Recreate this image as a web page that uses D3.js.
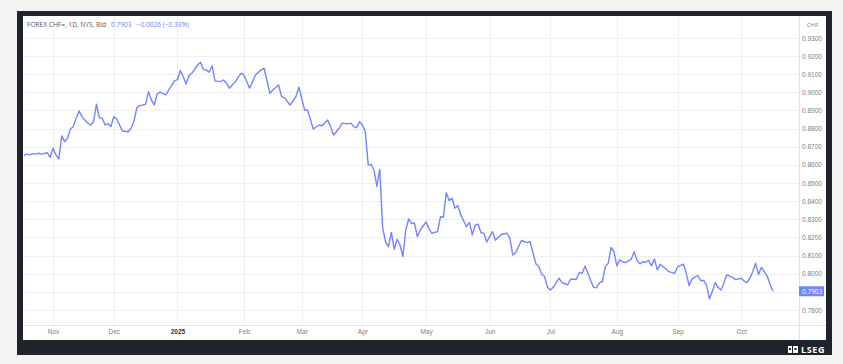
<!DOCTYPE html>
<html>
<head>
<meta charset="utf-8">
<script src="https://cdnjs.cloudflare.com/ajax/libs/d3/7.8.5/d3.min.js"></script>
<style>
    html, body { margin: 0; padding: 0; background: #f3f3f3; }
    svg { display: block; font-family: "Open Sans", "Noto Sans", sans-serif; }
    .axis text { font-size: 6.5px; fill: #7a7d86; }
    .axis .domain { display: none; }
</style>
</head>
<body>
<div id="chart"></div>
<script>
// daily bid closes (one sample per session where visible)
var dates = [
    "2024-10-18","2024-10-21","2024-10-22","2024-10-23","2024-10-24","2024-10-25","2024-10-28","2024-10-30","2024-10-31",
    "2024-11-01","2024-11-04","2024-11-05","2024-11-06","2024-11-07","2024-11-08","2024-11-11","2024-11-12","2024-11-13",
    "2024-11-14","2024-11-15","2024-11-19","2024-11-20","2024-11-21","2024-11-22","2024-11-25","2024-11-26","2024-11-27",
    "2024-11-28","2024-11-29","2024-12-02","2024-12-03","2024-12-05","2024-12-09","2024-12-10","2024-12-11","2024-12-12",
    "2024-12-13","2024-12-17","2024-12-18","2024-12-19","2024-12-20","2024-12-23","2024-12-24","2024-12-26","2024-12-27",
    "2024-12-31","2025-01-01","2025-01-02","2025-01-03","2025-01-06","2025-01-07","2025-01-08","2025-01-10","2025-01-13",
    "2025-01-14","2025-01-15","2025-01-16","2025-01-17","2025-01-20","2025-01-22","2025-01-23","2025-01-24","2025-01-27",
    "2025-01-29","2025-01-31","2025-02-03","2025-02-05","2025-02-07","2025-02-11","2025-02-12","2025-02-14","2025-02-17",
    "2025-02-19","2025-02-20","2025-02-21","2025-02-25","2025-02-27","2025-02-28","2025-03-03","2025-03-04","2025-03-05",
    "2025-03-07","2025-03-11","2025-03-12","2025-03-14","2025-03-17","2025-03-18","2025-03-20","2025-03-21","2025-03-25",
    "2025-03-26","2025-03-27","2025-03-28","2025-03-31","2025-04-01","2025-04-02","2025-04-03","2025-04-04","2025-04-07",
    "2025-04-08","2025-04-09","2025-04-10","2025-04-11","2025-04-14","2025-04-15","2025-04-16","2025-04-17","2025-04-18",
    "2025-04-21","2025-04-22","2025-04-23","2025-04-24","2025-04-25","2025-04-28","2025-04-29","2025-05-01","2025-05-02",
    "2025-05-05","2025-05-07","2025-05-08","2025-05-09","2025-05-12","2025-05-13","2025-05-14","2025-05-15","2025-05-16",
    "2025-05-19","2025-05-21","2025-05-22","2025-05-23","2025-05-26","2025-05-27","2025-05-28","2025-05-29","2025-05-30",
    "2025-06-03","2025-06-04","2025-06-06","2025-06-10","2025-06-11","2025-06-12","2025-06-13","2025-06-17","2025-06-19",
    "2025-06-20","2025-06-23","2025-06-24","2025-06-25","2025-06-26","2025-06-27","2025-06-30","2025-07-01","2025-07-02",
    "2025-07-03","2025-07-04","2025-07-07","2025-07-09","2025-07-10","2025-07-14","2025-07-15","2025-07-16","2025-07-17",
    "2025-07-18","2025-07-21","2025-07-22","2025-07-23","2025-07-24","2025-07-25","2025-07-28","2025-07-29","2025-07-30",
    "2025-07-31","2025-08-01","2025-08-04","2025-08-05","2025-08-06","2025-08-08","2025-08-11","2025-08-12","2025-08-13",
    "2025-08-14","2025-08-15","2025-08-18","2025-08-19","2025-08-20","2025-08-21","2025-08-22","2025-08-26","2025-08-27",
    "2025-08-29","2025-09-01","2025-09-03","2025-09-04","2025-09-05","2025-09-08","2025-09-10","2025-09-11","2025-09-12",
    "2025-09-15","2025-09-16","2025-09-17","2025-09-18","2025-09-19","2025-09-22","2025-09-23","2025-09-24","2025-09-26",
    "2025-09-29","2025-10-01","2025-10-02","2025-10-03","2025-10-06","2025-10-07","2025-10-08","2025-10-09","2025-10-10",
    "2025-10-14","2025-10-15","2025-10-16"
];

var closes = [
    0.8652,0.8659,0.8655,0.8662,0.8659,0.8664,0.8659,0.8667,0.8642,
    0.8692,0.8655,0.8632,0.8760,0.8728,0.8747,0.8798,0.8811,0.8857,
    0.8897,0.8866,0.8830,0.8820,0.8838,0.8934,0.8860,0.8857,0.8820,
    0.8827,0.8811,0.8866,0.8853,0.8787,0.8783,0.8802,0.8842,0.8916,
    0.8927,0.8934,0.9004,0.8958,0.8930,0.8990,0.9001,0.8986,0.9013,
    0.9063,0.9070,0.9120,0.9087,0.9046,0.9092,0.9105,0.9151,0.9166,
    0.9127,0.9124,0.9111,0.9146,0.9063,0.9059,0.9068,0.9050,0.9023,
    0.9059,0.9105,0.9096,0.9023,0.9096,0.9124,0.9133,0.8995,0.9013,
    0.9041,0.8976,0.8971,0.8930,0.8976,0.9028,0.8967,0.8903,0.8903,
    0.8798,0.8820,0.8816,0.8848,0.8811,0.8765,0.8802,0.8830,0.8826,
    0.8830,0.8811,0.8805,0.8838,0.8820,0.8783,0.8600,0.8602,0.8572,
    0.8481,0.8575,0.8252,0.8175,0.8149,0.8228,0.8135,0.8190,0.8158,
    0.8094,0.8241,0.8302,0.8278,0.8278,0.8204,0.8241,0.8285,0.8250,
    0.8223,0.8232,0.8314,0.8311,0.8447,0.8403,0.8416,0.8361,0.8376,
    0.8324,0.8259,0.8283,0.8214,0.8269,0.8273,0.8226,0.8223,0.8175,
    0.8232,0.8184,0.8216,0.8223,0.8195,0.8103,0.8116,0.8183,0.8171,
    0.8177,0.8114,0.8054,0.8040,0.7998,0.7984,0.7925,0.7910,0.7925,
    0.7949,0.7975,0.7950,0.7939,0.7969,0.7969,0.8007,0.8002,0.8041,
    0.8002,0.7960,0.7924,0.7923,0.7950,0.7956,0.8039,0.8057,0.8145,
    0.8121,0.8043,0.8077,0.8066,0.8061,0.8080,0.8121,0.8072,0.8054,
    0.8066,0.8063,0.8074,0.8043,0.8081,0.8021,0.8052,0.8026,0.8011,
    0.8002,0.8037,0.8053,0.8002,0.7935,0.7971,0.7990,0.7962,0.7963,
    0.7938,0.7862,0.7901,0.7950,0.7925,0.7910,0.7947,0.7993,0.7980,
    0.7967,0.7975,0.7960,0.7950,0.7975,0.8011,0.8057,0.7995,0.8035,
    0.7987,0.7940,0.7903
];

var monthStarts = ["2024-11-01","2024-12-01","2025-01-01","2025-02-01","2025-03-01","2025-04-01",
                   "2025-05-01","2025-06-01","2025-07-01","2025-08-01","2025-09-01","2025-10-01"];
var monthLabels = ["Nov","Dec","2025","Feb","Mar","Apr","May","Jun","Jul","Aug","Sep","Oct"];

var priceTicks = [0.78,0.79,0.80,0.81,0.82,0.83,0.84,0.85,0.86,0.87,0.88,0.89,0.90,0.91,0.92,0.93];

var symbol = "FOREX CHF=, 1D, NYS, Bid",
    currency = "CHF",
    change = -0.0026,
    changePct = -0.33;

var width = 843, height = 364,
    frame = {left: 17, top: 11, right: 832, bottom: 355},
    panel = {right: 826, bottom: 340},
    plot = {left: 23, top: 16, right: 799, bottom: 325},
    line_color = "#7284ff",
    grid_color = "#eeeef0";

var parse_date = d3.utcParse("%Y-%m-%d"),
    price_format = d3.format(".4f"),
    start = parse_date(dates[0]);

// sessions (weekdays) since the first date -- the x axis has no weekend gaps
function session(d) {
    var n = 0;
    for (var t = new Date(start); t < d; t.setUTCDate(t.getUTCDate() + 1)) {
        var w = t.getUTCDay();
        if (w !== 0 && w !== 6) n++;
    }
    return n;
}

var data = dates.map(function(d, i) {
    var t = parse_date(d);
    return {date: t, idx: session(t), close: closes[i]};
});
var last = data[data.length - 1];

var x = d3.scaleLinear()
    .domain([-0.4, last.idx + 9])
    .range([plot.left, plot.right]);

var y = d3.scaleLinear()
    .domain([0.7717, 0.9421])
    .range([plot.bottom, plot.top]);

var svg = d3.select("#chart").append("svg")
    .attr("width", width)
    .attr("height", height);

svg.append("rect")
    .attr("x", frame.left).attr("y", frame.top)
    .attr("width", frame.right - frame.left)
    .attr("height", frame.bottom - frame.top)
    .attr("fill", "#1f232b");

svg.append("rect")
    .attr("x", plot.left).attr("y", plot.top)
    .attr("width", panel.right - plot.left)
    .attr("height", panel.bottom - plot.top)
    .attr("fill", "#fff");

/****
 * Grid
 */
var monthIdx = monthStarts.map(function(d) { return session(parse_date(d)); });

svg.append("g").selectAll("line")
    .data(priceTicks)
    .enter().append("line")
    .attr("x1", plot.left).attr("x2", plot.right)
    .attr("y1", function(d) { return Math.round(y(d)) + 0.5; })
    .attr("y2", function(d) { return Math.round(y(d)) + 0.5; })
    .attr("stroke", grid_color);

svg.append("g").selectAll("line")
    .data(monthIdx)
    .enter().append("line")
    .attr("x1", function(d) { return Math.round(x(d)) + 0.5; })
    .attr("x2", function(d) { return Math.round(x(d)) + 0.5; })
    .attr("y1", plot.top).attr("y2", plot.bottom)
    .attr("stroke", grid_color);

// separators of the price scale and time scale
svg.append("line")
    .attr("x1", plot.right + 0.5).attr("x2", plot.right + 0.5)
    .attr("y1", plot.top).attr("y2", panel.bottom)
    .attr("stroke", "#e2e3e6");

svg.append("line")
    .attr("x1", plot.left).attr("x2", panel.right)
    .attr("y1", plot.bottom + 0.5).attr("y2", plot.bottom + 0.5)
    .attr("stroke", "#e2e3e6");

/****
 * Axes
 */
var yAxis = d3.axisRight(y)
    .tickValues(priceTicks)
    .tickSize(0)
    .tickPadding(3)
    .tickFormat(price_format);

// the last-price tag sits on top of the nearest price label, so that label is hidden
svg.append("g")
    .attr("class", "y axis")
    .attr("transform", "translate(" + plot.right + ",0)")
    .call(yAxis)
    .selectAll(".tick")
    .filter(function(d) { return Math.abs(y(d) - y(last.close)) < 9; })
    .remove();

var xAxis = d3.axisBottom(x)
    .tickValues(monthIdx)
    .tickSize(0)
    .tickPadding(4)
    .tickFormat(function(d, i) { return monthLabels[i]; });

svg.append("g")
    .attr("class", "x axis")
    .attr("transform", "translate(0," + plot.bottom + ")")
    .call(xAxis)
    .selectAll("text")
    .filter(function(d, i) { return /^\d+$/.test(monthLabels[i]); })
    .style("font-weight", "bold")
    .style("fill", "#333");

svg.append("text")
    .attr("x", (plot.right + panel.right) / 2)
    .attr("y", 27)
    .attr("text-anchor", "middle")
    .style("font-size", "6px")
    .style("fill", "#7a7d86")
    .text(currency);

/****
 * Line
 */
var line = d3.line()
    .x(function(d) { return x(d.idx); })
    .y(function(d) { return y(d.close); });

svg.append("path")
    .datum(data)
    .attr("d", line)
    .attr("fill", "none")
    .attr("stroke", line_color)
    .attr("stroke-width", 1.4)
    .attr("stroke-linejoin", "round");

// last price tag
var tag = svg.append("g")
    .attr("transform", "translate(" + plot.right + "," + y(last.close) + ")");

tag.append("rect")
    .attr("x", 0).attr("y", -5)
    .attr("width", 25).attr("height", 10)
    .attr("fill", line_color);

tag.append("text")
    .attr("x", 3).attr("y", 2.3)
    .style("font-size", "6.5px")
    .style("fill", "#fff")
    .text(price_format(last.close));

/****
 * Header
 */
var header = svg.append("text")
    .attr("x", 27)
    .attr("y", 27.3)
    .style("font-size", "6.6px")
    .style("fill", "#555a64")
    .text(symbol);

header.append("tspan")
    .attr("dx", 5)
    .style("fill", line_color)
    .text(price_format(last.close));

header.append("tspan")
    .attr("dx", 5)
    .style("fill", line_color)
    .text(d3.format(".4f")(change) + " (" + d3.format(".2f")(changePct) + "%)");

/****
 * Logo
 */
var logo = svg.append("g")
    .attr("transform", "translate(788,346)");

logo.append("rect").attr("x", 0).attr("y", 0).attr("width", 4).attr("height", 7).attr("fill", "#fff");
logo.append("rect").attr("x", 5).attr("y", 0).attr("width", 5).attr("height", 7).attr("fill", "#fff");
logo.append("rect").attr("x", 1).attr("y", 2).attr("width", 2).attr("height", 2).attr("fill", "#1f232b");
logo.append("rect").attr("x", 6.5).attr("y", 2).attr("width", 2).attr("height", 2).attr("fill", "#1f232b");

logo.append("text")
    .attr("x", 13)
    .attr("y", 7)
    .style("font-size", "9px")
    .style("font-weight", "bold")
    .style("letter-spacing", "0.6px")
    .style("fill", "#fff")
    .text("LSEG");
</script>
</body>
</html>
